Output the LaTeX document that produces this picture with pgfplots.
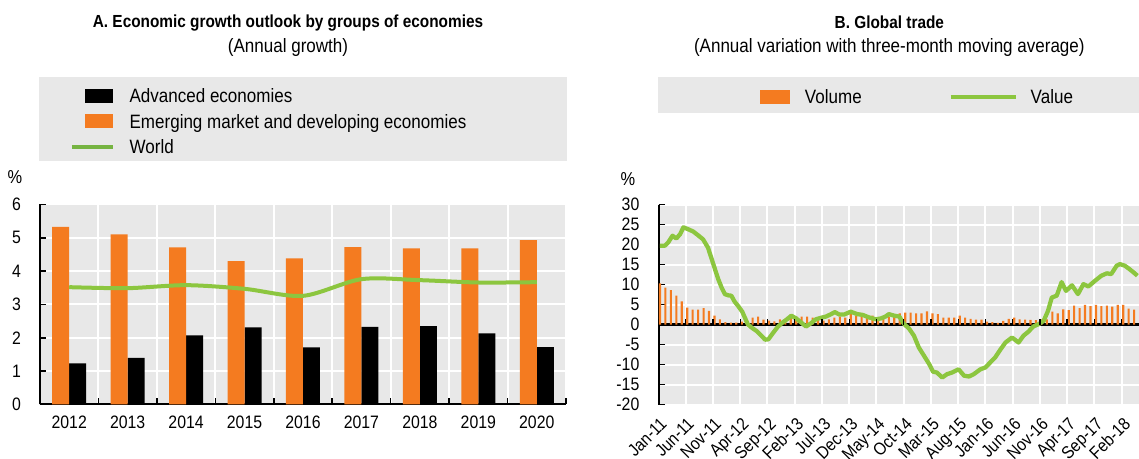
\documentclass[border=0pt]{standalone}
\usepackage{pgfplots}
\pgfplotsset{compat=1.18}
\usepackage{fontspec}
\setmainfont{Liberation Sans}[FakeStretch=0.88]
\definecolor{bggray}{RGB}{232,232,232}
\definecolor{oecdorange}{RGB}{244,123,32}
\definecolor{oecdgreen}{RGB}{140,198,63}
\definecolor{legendgreen}{RGB}{118,180,66}

\pgfplotstableread{
k v
0 10.3
1 9.25
2 8.6
3 7.2
4 5.8
5 4.25
6 3.7
7 3.7
8 4.1
9 3.4
10 2.2
11 1.3
12 0.6
13 0.5
14 0.5
15 0.75
16 1.0
17 1.75
18 2.0
19 1.2
20 1.0
21 0.8
22 1.3
23 1.2
24 1.7
25 2.0
26 2.0
27 2.0
28 1.7
29 1.3
30 1.0
31 1.3
32 1.7
33 2.0
34 1.75
35 2.6
36 2.2
37 2.2
38 1.75
39 2.2
40 1.5
41 1.5
42 2.0
43 2.2
44 2.8
45 3.0
46 3.0
47 2.8
48 2.8
49 3.3
50 2.8
51 2.6
52 1.7
53 1.7
54 1.7
55 2.2
56 1.7
57 1.4
58 1.2
59 1.25
60 0.7
61 0.6
62 0.4
63 0.9
64 1.4
65 1.7
66 1.3
67 1.25
68 1.15
69 1.1
70 1.3
71 1.3
72 3.25
73 2.8
74 3.8
75 3.6
76 4.7
77 4.1
78 4.9
79 4.6
80 4.9
81 4.6
82 4.7
83 4.5
84 4.9
85 4.9
86 4.0
87 3.7
}\volumetable

\pgfplotstableread{
k v
0 19.7
0.9 19.7
1.5 20.5
2.3 22.2
3.0 21.5
3.7 22.6
4.3 24.3
5.2 23.8
6.1 23.25
7.0 22.3
7.9 21.3
8.8 19.25
9.4 16.75
10.1 13.8
10.7 11.3
11.3 9.25
11.9 7.6
12.5 7.3
13.1 7.2
13.7 5.7
14.3 4.7
15.1 3.2
16.1 0.1
16.8 -0.75
17.7 -1.6
18.6 -2.8
19.3 -3.8
19.9 -3.7
20.7 -2.2
21.6 -0.6
22.5 0.5
23.3 1.3
24.1 2.2
25.0 1.5
25.9 0.5
26.8 -0.5
27.7 0.3
28.6 1.3
29.6 1.7
30.5 2.0
31.4 2.6
32.1 3.1
32.9 2.5
33.8 2.5
35.0 3.2
36.2 2.6
37.2 2.4
38.4 1.75
39.6 1.3
40.5 1.5
41.4 2.0
42.0 2.6
43.0 2.2
43.9 2.0
44.8 0.1
45.7 -1.0
46.6 -2.8
47.5 -5.75
48.4 -7.7
49.4 -9.9
50.1 -11.8
50.8 -12.0
51.8 -13.25
52.7 -12.4
53.6 -12.0
54.8 -11.2
55.8 -12.8
56.7 -13.0
57.6 -12.4
58.8 -11.2
59.7 -10.75
60.6 -9.5
61.5 -8.25
62.5 -6.2
63.4 -4.5
64.6 -3.25
65.8 -4.5
66.7 -2.8
67.6 -1.8
68.5 -0.5
69.5 0.1
70.4 0.9
71.2 3.4
71.9 6.75
72.8 7.2
73.7 10.6
74.5 8.4
75.6 9.8
76.7 7.6
77.7 10.1
78.6 9.5
79.8 10.9
81.0 12.2
82.0 12.8
82.8 12.6
83.8 14.7
84.4 15.1
85.3 14.7
86.2 13.8
87.1 12.8
87.6 12.2
}\valuetable

\begin{document}
\fontsize{14pt}{16.8pt}\selectfont
\begin{tikzpicture}
\useasboundingbox (0,0) rectangle (854.25pt,-344.25pt);
% legend backgrounds
\fill[bggray] (29.25pt,-57.75pt) rectangle (425.25pt,-120.5pt);
\fill[bggray] (493.5pt,-57.75pt) rectangle (854.25pt,-84.75pt);
% titles
\node[font=\bfseries\fontsize{13.1pt}{15pt}\selectfont] at (216pt,-17pt) {A. Economic growth outlook by groups of economies};
\node[font=\fontsize{14.5pt}{17pt}\selectfont] at (216pt,-36pt) {(Annual growth)};
\node[font=\bfseries\fontsize{13.1pt}{15pt}\selectfont] at (667pt,-17pt) {B. Global trade};
\node[font=\fontsize{14.5pt}{17pt}\selectfont] at (667pt,-36pt) {(Annual variation with three-month moving average)};
\node at (11.25pt,-132.5pt) {\%};
\node at (471pt,-134pt) {\%};

% ---------------- Panel A ----------------
\begin{axis}[
  at={(30pt,-303.375pt)}, anchor=south west,
  scale only axis, width=394.5pt, height=150pt,
  xmin=-0.5, xmax=8.5, ymin=0, ymax=6,
  axis lines*=left,
  axis line style={-, line width=1.5pt, black},
  axis background/.style={fill=bggray},
  ytick={0,1,...,6},
  xtick={-0.5,0.5,...,8.5},
  xticklabels={},
  extra x ticks={0,1,2,3,4,5,6,7,8},
  extra x tick labels={2012,2013,2014,2015,2016,2017,2018,2019,2020},
  extra x tick style={major tick length=0pt, grid=none},
  xmajorgrids, ymajorgrids,
  major grid style={white, line width=1.5pt},
  tick align=inside,
  major tick length=4.5pt,
  tick style={black, line width=1.1pt},
  tick label style={font=\fontsize{13.5pt}{15pt}\selectfont},
  /pgf/number format/assume math mode=true,
  yticklabel style={xshift=-9.5pt},
  xticklabel style={yshift=-4pt},
  legend style={at={(axis description cs:0.057,1.578)}, anchor=north west,
    draw=none, fill=none, inner sep=0pt, outer sep=0pt, row sep=8.28pt,
    nodes={inner sep=0pt, text height=10.4pt, text depth=0pt},
    font=\fontsize{14.5pt}{17pt}\selectfont},
  legend cell align=left,
]
\addplot[ybar, bar width=12.75pt, bar shift=6.375pt, fill=black, draw=none,
  legend image code/.code={\path[draw=none,fill=none] (0pt,-5.35pt) rectangle (41.25pt,5.35pt);
    \fill[black] (7.5pt,-5.35pt) rectangle (28.5pt,5.35pt);}]
  coordinates {(0,1.23) (1,1.40) (2,2.07) (3,2.31) (4,1.71) (5,2.33) (6,2.35) (7,2.13) (8,1.72)};
\addplot[ybar, bar width=12.75pt, bar shift=-6.375pt, fill=oecdorange, draw=none,
  legend image code/.code={\path[draw=none,fill=none] (0pt,-5.35pt) rectangle (41.25pt,5.35pt);
    \fill[oecdorange] (7.5pt,-5.35pt) rectangle (28.5pt,5.35pt);}]
  coordinates {(0,5.33) (1,5.10) (2,4.71) (3,4.30) (4,4.38) (5,4.72) (6,4.68) (7,4.68) (8,4.93)};
\addplot[oecdgreen, line width=3pt, smooth, no marks,
  legend image code/.code={\path[draw=none,fill=none] (0pt,-5.35pt) rectangle (41.25pt,5.35pt);
    \draw[legendgreen, line width=3pt] (-2pt,0pt) -- (28.5pt,0pt);}]
  coordinates {(0,3.52) (1,3.49) (2,3.58) (3,3.47) (4,3.26) (5,3.76) (6,3.73) (7,3.66) (8,3.67)};
\legend{Advanced economies, Emerging market and developing economies, World}
\end{axis}

% ---------------- Panel B ----------------
\begin{axis}[
  at={(493.875pt,-303.375pt)}, anchor=south west,
  scale only axis, width=360.375pt, height=150pt,
  xmin=-0.27, xmax=87.9, ymin=-20, ymax=30,
  axis lines*=left,
  axis line style={-, line width=1.5pt, black},
  x axis line style={draw=none},
  axis background/.style={fill=bggray},
  ytick={-20,-15,...,30},
  xtick={-0.27,4.73,9.73,14.73,19.73,24.73,29.73,34.73,39.73,44.73,49.73,54.73,59.73,64.73,69.73,74.73,79.73,84.73},
  xticklabels={Jan-11,Jun-11,Nov-11,Apr-12,Sep-12,Feb-13,Jul-13,Dec-13,May-14,Oct-14,Mar-15,Aug-15,Jan-16,Jun-16,Nov-16,Apr-17,Sep-17,Feb-18},
  xtick style={draw=none},
  xmajorgrids, ymajorgrids,
  major grid style={white, line width=1.5pt},
  extra y ticks={0}, extra y tick labels={},
  extra y tick style={grid=major, major grid style={black, line width=1.7pt}},
  tick align=inside,
  major tick length=4.5pt,
  tick style={black, line width=1.1pt},
  tick label style={font=\fontsize{13.5pt}{15pt}\selectfont},
  /pgf/number format/assume math mode=true,
  yticklabel style={xshift=-9.5pt},
  xticklabel style={xshift=0.5pt, yshift=-2pt, rotate=45, anchor=north east, font=\fontsize{13.2pt}{15pt}\selectfont},
  legend style={at={(axis description cs:0.2112,1.575)}, anchor=north west,
    draw=none, fill=none, inner sep=0pt, outer sep=0pt,
    nodes={inner sep=0pt, text height=10.4pt, text depth=0pt},
    /tikz/every even column/.append style={column sep=65.25pt},
    font=\fontsize{14.5pt}{17pt}\selectfont},
  legend columns=2,
]
\addplot[ybar, bar width=1.6pt, bar shift=0pt, fill=oecdorange, draw=none,
  legend image code/.code={\path[draw=none,fill=none] (0pt,-5.6pt) rectangle (33.75pt,5.6pt);
    \fill[oecdorange] (0pt,-5.25pt) rectangle (22.5pt,5.25pt);}]
  table[x=k, y=v] {\volumetable};
\addplot[oecdgreen, line width=3.2pt, line join=round, no marks,
  legend image code/.code={\path[draw=none,fill=none] (0pt,-5.6pt) rectangle (60pt,5.6pt);
    \draw[oecdgreen, line width=3pt] (0pt,0pt) -- (48.75pt,0pt);}]
  table[x=k, y=v] {\valuetable};
\legend{Volume, Value}
\pgfplotsinvokeforeach{-0.27,4.73,9.73,14.73,19.73,24.73,29.73,34.73,39.73,44.73,49.73,54.73,59.73,64.73,69.73,74.73,79.73,84.73}{
  \draw[black, line width=1.1pt] (axis cs:#1,0) -- (axis cs:#1,1.3);
}
\end{axis}
\end{tikzpicture}
\end{document}
